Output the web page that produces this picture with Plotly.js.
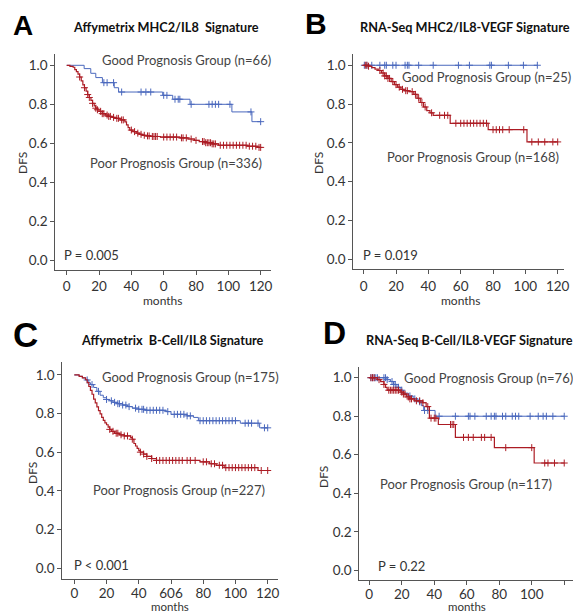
<!DOCTYPE html>
<html>
<head>
<meta charset="utf-8">
<script src="https://cdn.plot.ly/plotly-3.0.1.min.js"></script>
<style>html,body{margin:0;padding:0;background:#fff;}#chart{width:573px;height:614px;}</style>
</head>
<body>
<div id="chart"></div>
<script>
// ---------- Data ----------
// Panel A: Affymetrix MHC2/IL8 Signature
const A_good_t = [0, 10.8, 14.9, 18, 22.1, 29.4, 32.1, 59.4, 65.6, 76.3, 102.2, 114.6];
const A_good_s = [1.0, 0.983, 0.959, 0.937, 0.911, 0.885, 0.863, 0.846, 0.826, 0.80, 0.761, 0.711];
const A_good_cens = [23, 25, 29, 34, 46, 49, 52, 60, 62, 67, 69, 70, 77, 88, 90, 92, 94, 101, 114, 120];
const A_poor_t = [0, 2, 4, 5, 6, 7, 8, 9, 10, 11, 12, 13, 14, 15, 16, 17, 18, 19, 20, 22, 24, 26, 28, 30, 33, 36, 37, 38, 39, 41, 43, 45, 47, 49, 52, 58, 70, 75, 79, 82, 86, 90, 94, 112, 118];
const A_poor_s = [1.0, 0.995, 0.99, 0.978, 0.968, 0.955, 0.94, 0.92, 0.9, 0.885, 0.868, 0.85, 0.835, 0.82, 0.805, 0.792, 0.78, 0.772, 0.764, 0.752, 0.745, 0.738, 0.733, 0.728, 0.72, 0.71, 0.695, 0.68, 0.668, 0.66, 0.652, 0.646, 0.641, 0.638, 0.635, 0.632, 0.628, 0.622, 0.615, 0.609, 0.603, 0.597, 0.59, 0.585, 0.579];
const A_poor_cens = [8, 11, 13, 14, 16, 18, 19, 21, 22, 23, 25, 26, 27, 29, 31, 32, 34, 35, 40, 42, 44, 46, 48, 50, 51, 53, 54, 55, 56, 60, 62, 64, 66, 68, 71, 72, 74, 77, 80, 84, 85, 86, 87, 88, 89, 90, 91, 92, 95, 97, 99, 101, 103, 105, 107, 109, 111, 113, 115, 117, 119, 120];
const A_xticks = ['0', '20', '40', '0', '80', '100', '120'];

// Panel B: RNA-Seq MHC2/IL8-VEGF Signature
const B_good_t = [0];
const B_good_s = [1.0];
const B_good_cens = [0.4, 1.9, 5, 10, 13, 14, 18, 20, 25.6, 27, 28, 34, 43, 58.6, 65.4, 78, 79, 89.5, 98.8, 107.4];
const B_poor_t = [0, 3, 5, 7, 9, 11, 13, 15, 17, 19, 21, 23, 25, 28, 31, 33, 35, 37, 39, 41, 43, 53.5, 77, 101];
const B_poor_s = [1.0, 0.995, 0.988, 0.98, 0.973, 0.96, 0.945, 0.932, 0.916, 0.9, 0.887, 0.876, 0.869, 0.864, 0.85, 0.83, 0.808, 0.785, 0.766, 0.755, 0.742, 0.701, 0.668, 0.605];
const B_poor_cens = [1, 2, 3, 10, 12, 13, 14, 15, 16, 18, 20, 22, 24, 26, 27, 30, 32, 34, 36, 38, 42, 47, 50, 52, 57, 60, 62, 64, 66, 68, 70, 72, 74, 76, 80, 82, 84, 86, 90, 99, 104, 108, 112, 117, 120];
const B_xticks = ['0', '20', '40', '60', '80', '100', '120'];

// Panel C: Affymetrix B-Cell/IL8 Signature
const C_good_t = [0, 3, 5, 7, 9, 10, 12, 14, 16, 18, 20, 22, 24, 27, 30, 33, 36, 40, 44, 57, 60, 70, 74, 77, 103, 115];
const C_good_s = [1.0, 0.993, 0.985, 0.974, 0.96, 0.95, 0.935, 0.915, 0.895, 0.882, 0.873, 0.866, 0.858, 0.851, 0.844, 0.836, 0.828, 0.822, 0.817, 0.81, 0.796, 0.788, 0.78, 0.763, 0.75, 0.726];
const C_good_cens = [8, 11, 15, 20, 23, 25, 27, 28, 30, 32, 34, 38, 40, 42, 43, 45, 47, 49, 51, 53, 55, 58, 62, 64, 66, 68, 70, 72, 78, 80, 82, 84, 86, 88, 90, 92, 94, 96, 98, 100, 106, 108, 110, 114, 118, 120];
const C_poor_t = [0, 3, 5, 7, 8, 9, 10, 11, 12, 13, 14, 15, 16, 17, 18, 19, 20, 21, 22, 23, 25, 28, 31, 35, 36, 37, 38, 39, 40, 41, 43, 45, 48, 51, 78, 84, 88, 93, 114];
const C_poor_s = [1.0, 0.993, 0.985, 0.975, 0.96, 0.94, 0.92, 0.9, 0.875, 0.855, 0.835, 0.815, 0.798, 0.78, 0.765, 0.752, 0.742, 0.73, 0.718, 0.708, 0.698, 0.69, 0.684, 0.675, 0.667, 0.645, 0.632, 0.62, 0.608, 0.6, 0.59, 0.578, 0.567, 0.557, 0.55, 0.54, 0.532, 0.52, 0.505];
const C_poor_cens = [22, 24, 26, 27, 29, 31, 33, 36, 41, 43, 45, 48, 51, 53, 55, 57, 59, 61, 63, 65, 67, 70, 72, 75, 80, 82, 85, 87, 90, 92, 94, 96, 98, 100, 102, 104, 106, 108, 110, 112, 116, 120];
const C_xticks = ['0', '20', '40', '606', '80', '100', '120'];

// Panel D: RNA-Seq B-Cell/IL8-VEGF Signature
const D_good_t = [0, 11, 13, 15, 17, 19, 21, 24, 27, 30, 32, 33.5, 40.5];
const D_good_s = [1.0, 0.99, 0.98, 0.965, 0.95, 0.935, 0.92, 0.905, 0.89, 0.875, 0.855, 0.83, 0.80];
const D_good_cens = [1, 2, 3, 4, 5, 9, 10, 11, 14, 15, 16, 18, 20, 25, 28, 31, 34, 36, 43, 53, 61, 62, 65, 72, 75, 77, 78, 82, 84, 88, 90, 92, 99, 104, 107, 109, 113, 120];
const D_poor_t = [0, 5, 7, 9, 10, 11, 19, 21, 23, 25, 28, 33, 35, 37, 42.5, 53, 77, 101.5];
const D_poor_s = [1.0, 0.99, 0.98, 0.965, 0.95, 0.935, 0.925, 0.915, 0.9, 0.89, 0.88, 0.87, 0.85, 0.79, 0.757, 0.69, 0.637, 0.557];
const D_poor_cens = [1, 2, 3, 6, 9, 12, 13, 14, 15, 16, 17, 18, 20, 21, 22, 24, 25, 26, 29, 31, 33, 36, 38, 40, 41, 50, 51, 52, 58, 61, 64, 69, 71, 75, 84, 100, 108, 110, 114, 120];
const D_xticks = ['0', '20', '40', '60', '80', '100', '120'];

const xTickVals = [0, 20, 40, 60, 80, 100, 120];
const yTickVals = [0, 0.2, 0.4, 0.6, 0.8, 1.0];

const titles = ['Affymetrix MHC2/IL8  Signature', 'RNA-Seq MHC2/IL8-VEGF Signature', 'Affymetrix  B-Cell/IL8 Signature', 'RNA-Seq B-Cell/IL8-VEGF Signature'];
const letters = ['A', 'B', 'C', 'D'];
const goodLabels = ['Good Prognosis Group (n=66)', 'Good Prognosis Group (n=25)', 'Good Prognosis Group (n=175)', 'Good Prognosis Group (n=76)'];
const poorLabels = ['Poor Prognosis Group (n=336)', 'Poor Prognosis Group (n=168)', 'Poor Prognosis Group (n=227)', 'Poor Prognosis Group (n=117)'];
const pLabels = ['P = 0.005', 'P = 0.019', 'P < 0.001', 'P = 0.22'];

// ---------- Helpers ----------
const W = 573, H = 614;
const BLUE = '#4a68bd', RED = '#ac1c24';
const FONT = 'Lato, "Open Sans", sans-serif';

function survAt(t, s, time) {
  let v = s[0];
  for (let i = 0; i < t.length; i++) if (t[i] <= time) v = s[i];
  return v;
}
function curveTraces(t, s, cens, color, ax, width) {
  const end = Math.max(t[t.length - 1], cens[cens.length - 1]);
  const lx = t.slice(), ly = s.slice();
  lx.push(end); ly.push(s[s.length - 1]);
  const line = {type: 'scatter', mode: 'lines', x: lx, y: ly, xaxis: 'x' + ax, yaxis: 'y' + ax,
    line: {shape: 'hv', color: color, width: width}, hoverinfo: 'skip'};
  const marks = {type: 'scatter', mode: 'markers', x: cens, y: cens.map(c => survAt(t, s, c)),
    xaxis: 'x' + ax, yaxis: 'y' + ax,
    marker: {symbol: 'cross-thin-open', size: 5, color: color, line: {color: color, width: 1}}, hoverinfo: 'skip'};
  return [line, marks];
}

// pixel geometry of the four panels
const panels = [
  {px: [55.3, 271], py: [54, 270], xr: [-7.05, 126.4], yr: [-0.0497, 1.058], lso: 0},
  {px: [353.3, 564], py: [54, 269.3], xr: [-6.43, 123.9], yr: [-0.0515, 1.058], lso: 0},
  {px: [62.3, 278], py: [362, 579.3], xr: [-7.45, 126.4], yr: [-0.0585, 1.067], lso: -3},
  {px: [359.3, 573], py: [367, 580.3], xr: [-6.15, 125.4], yr: [-0.052, 1.0556], lso: -3}
];
const xtickSets = [A_xticks, B_xticks, C_xticks, D_xticks];

const data = [
  ...curveTraces(A_good_t, A_good_s, A_good_cens, BLUE, '', 1),
  ...curveTraces(A_poor_t, A_poor_s, A_poor_cens, RED, '', 1.2),
  ...curveTraces(B_good_t, B_good_s, B_good_cens, BLUE, '2', 1),
  ...curveTraces(B_poor_t, B_poor_s, B_poor_cens, RED, '2', 1.2),
  ...curveTraces(C_good_t, C_good_s, C_good_cens, BLUE, '3', 1),
  ...curveTraces(C_poor_t, C_poor_s, C_poor_cens, RED, '3', 1.2),
  ...curveTraces(D_good_t, D_good_s, D_good_cens, BLUE, '4', 1),
  ...curveTraces(D_poor_t, D_poor_s, D_poor_cens, RED, '4', 1.2)
];

const layout = {
  width: W, height: H, autosize: false,
  margin: {l: 0, r: 0, t: 0, b: 0, pad: 0},
  paper_bgcolor: '#ffffff', plot_bgcolor: 'rgba(0,0,0,0)',
  showlegend: false,
  font: {family: FONT, color: '#333333', size: 13},
  annotations: []
};

panels.forEach((p, i) => {
  const sfx = i === 0 ? '' : String(i + 1);
  layout['xaxis' + sfx] = {
    domain: [p.px[0] / W, p.px[1] / W], range: p.xr, anchor: 'y' + sfx,
    showgrid: false, zeroline: false, showline: true, linecolor: '#555555', linewidth: 1,
    ticks: 'outside', ticklen: 4, tickcolor: '#555555', tickwidth: 1,
    ticklabelstandoff: p.lso,
    tickvals: xTickVals, ticktext: xtickSets[i],
    tickfont: {family: FONT, size: 13.5, color: '#333333'}, fixedrange: true
  };
  layout['yaxis' + sfx] = {
    domain: [1 - p.py[1] / H, 1 - p.py[0] / H], range: p.yr, anchor: 'x' + sfx,
    showgrid: false, zeroline: false, showline: true, linecolor: '#555555', linewidth: 1,
    ticks: 'outside', ticklen: 4, tickcolor: '#555555', tickwidth: 1,
    tickvals: yTickVals, tickformat: '.1f',
    tickfont: {family: FONT, size: 13.5, color: '#333333'}, fixedrange: true
  };
});

function ann(text, x, y, opts) {
  return Object.assign({text: text, x: x / W, y: 1 - y / H, xref: 'paper', yref: 'paper',
    showarrow: false, xanchor: 'center', yanchor: 'middle', borderpad: 0}, opts || {});
}

const letterPos = [[23, 25, 28], [316, 23, 30], [25, 334, 35], [334, 333, 32]];
const titlePos = [[166, 27], [464.5, 27], [172, 340], [469.5, 340]];
const goodPos = [[101, 60], [400.7, 77], [101, 376.7], [403, 378]];
const poorPos = [[89, 163], [386, 157], [92, 490], [379, 484]];
const pPos = [[63, 255], [361.7, 255], [73, 565], [377, 566]];
const monthsPos = [[162, 300, 12], [460, 300, 12], [170, 606.5, 11.5], [466.5, 606.5, 11.5]];
const dfsPos = [[22, 163], [318, 163], [32, 473], [323, 477]];

for (let i = 0; i < 4; i++) {
  layout.annotations.push(ann('<b>' + letters[i] + '</b>', letterPos[i][0], letterPos[i][1],
    {font: {family: '"Liberation Sans", Arial, sans-serif', size: letterPos[i][2], color: '#000'}}));
  layout.annotations.push(ann('<b>' + titles[i] + '</b>', titlePos[i][0], titlePos[i][1],
    {font: {family: FONT, size: 12.7, color: '#111'}}));
  layout.annotations.push(ann(goodLabels[i], goodPos[i][0], goodPos[i][1],
    {xanchor: 'left', font: {family: FONT, size: 13, color: '#444'}}));
  layout.annotations.push(ann(poorLabels[i], poorPos[i][0], poorPos[i][1],
    {xanchor: 'left', font: {family: FONT, size: 13, color: '#444'}}));
  layout.annotations.push(ann(pLabels[i], pPos[i][0], pPos[i][1],
    {xanchor: 'left', font: {family: FONT, size: 13, color: '#333'}}));
  layout.annotations.push(ann('months', monthsPos[i][0], monthsPos[i][1],
    {font: {family: FONT, size: monthsPos[i][2], color: '#333'}}));
  layout.annotations.push(ann('DFS', dfsPos[i][0], dfsPos[i][1],
    {textangle: -90, font: {family: FONT, size: 12, color: '#333'}}));
}

Plotly.newPlot('chart', data, layout, {staticPlot: true, displayModeBar: false});
</script>
</body>
</html>
